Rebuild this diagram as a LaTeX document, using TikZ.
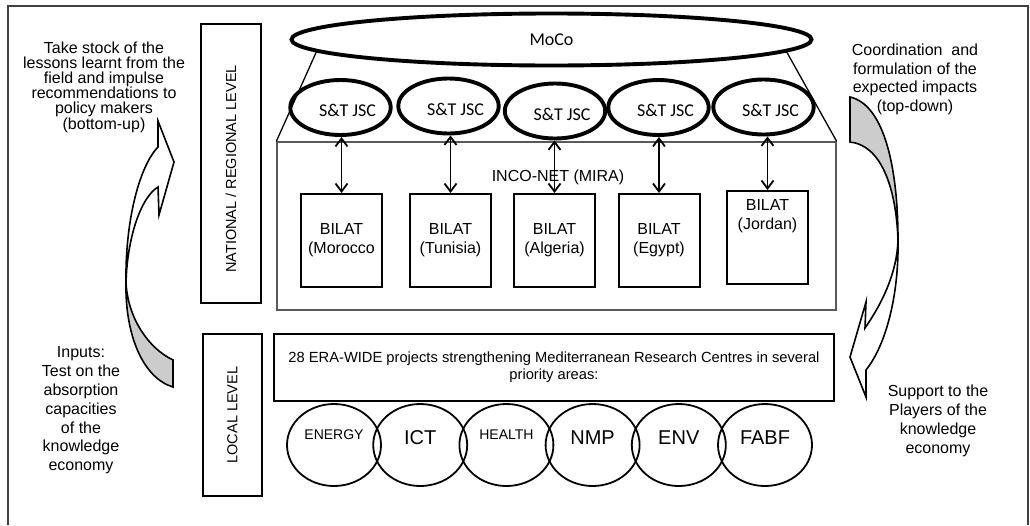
\documentclass[tikz,border=0pt]{standalone}
\usepackage{fontspec}
\setmainfont{Liberation Sans}
\newfontfamily\calibri{Carlito}
\usepackage{tikz}
\usetikzlibrary{arrows.meta,shapes,positioning}

\newcommand{\jsclabel}{\hspace*{14pt}S\&T JSC}

\begin{document}
\begin{tikzpicture}[x=1pt,y=-1pt,node distance=86.2pt]
      \tikzstyle{level}=[draw=black, line width=2.2pt, inner sep=0pt, rotate=90, font=\fontsize{14.5}{16}\selectfont]
      \tikzstyle{jsc}=[ellipse, draw=black, line width=3.9pt, minimum width=91pt, minimum height=55pt, inner sep=0pt, text height=19pt, font=\calibri\fontsize{18}{20}\selectfont]
      \tikzstyle{bilat}=[draw=black, line width=2pt, minimum width=81pt, minimum height=93pt, inner sep=0pt, align=center, font=\fontsize{16}{19}\selectfont]
      \tikzstyle{area}=[ellipse, draw=black, line width=1.8pt, minimum width=94pt, minimum height=82pt, inner sep=0pt, text depth=14pt, font=\fontsize{20}{22}\selectfont]
      \tikzstyle{small_area}=[area, text depth=20pt, font=\fontsize{14}{16}\selectfont]
      \tikzstyle{side_text}=[align=center, font=\fontsize{16}{18.8}\selectfont]
      \tikzstyle{link}=[line width=1.8pt, {Straight Barb[length=8pt,width=12pt]}-{Straight Barb[length=8pt,width=12pt]}]
      \tikzstyle{ribbon}=[draw=black, line width=1.6pt]

      \useasboundingbox (0,0) rectangle (1030,525);
      % outer frame, open at the bottom
      \draw [black!75, line width=1.3pt] (8,525) -- (8,6) -- (1028,6) -- (1028,525);

      % the two levels
      \node [level, minimum width=279pt, minimum height=60pt] (national) at (231,163.5) {NATIONAL / REGIONAL LEVEL\hspace*{11pt}};
      \node [level, minimum width=162pt, minimum height=59pt] (local) at (232.5,415) {LOCAL LEVEL};

      % national / regional level
      \node [draw=black!65, line width=1.3pt, minimum width=559pt, minimum height=168pt, inner sep=0pt] (inco) at (556.5,226) {};
      \node [font=\fontsize{16}{19}\selectfont] (inco_text) at (558,177) {INCO-NET (MIRA)};

      \node [ellipse, draw=black, line width=3.9pt, minimum width=520pt, minimum height=52pt, font=\calibri\fontsize{18}{20}\selectfont] (moco) at (551.5,39.5) {MoCo};
      \draw [line width=1.3pt] (moco.183) -- (inco.north west);
      \draw [line width=1.3pt] (moco.357) -- (inco.north east);

      \node [jsc] (jsc1) at (340.5,107.5) {\jsclabel};
      \node [jsc] (jsc2) at (448.5,106) {\jsclabel};
      \node [jsc] (jsc3) at (555,111) {\jsclabel};
      \node [jsc] (jsc4) at (658.5,107.5) {\jsclabel};
      \node [jsc] (jsc5) at (763.5,107) {\jsclabel};

      \node [bilat] (bilat1) at (341.5,240.5) {BILAT\\(Morocco};
      \node [bilat] (bilat2) at (450.5,240.5) {BILAT\\(Tunisia)};
      \node [bilat] (bilat3) at (554.5,240.5) {BILAT\\(Algeria)};
      \node [bilat] (bilat4) at (659,240.5) {BILAT\\(Egypt)};
      \node [bilat] (bilat5) at (767.5,237.5) {};
      \node [align=center, inner sep=0pt, font=\fontsize{16}{19}\selectfont, below=9pt of bilat5.north] (bilat5_text) {BILAT\\(Jordan)};

      \draw [link] (bilat1.north |- jsc1.south) -- (bilat1.north);
      \draw [link] (bilat2.north |- jsc2.south) -- (bilat2.north);
      \draw [link] (bilat3.north |- jsc3.south) -- (bilat3.north);
      \draw [link] (bilat4.north |- jsc4.south) -- (bilat4.north);
      \draw [link] (bilat5.north |- jsc5.south) -- (bilat5.north);

      % local level
      \node [draw=black, line width=2pt, minimum width=560pt, minimum height=67pt, align=center, font=\fontsize{14.7}{17}\selectfont] (era) at (554,367.5) {28 ERA-WIDE projects strengthening Mediterranean Research Centres in several\\priority areas:};

      \node [small_area] (energy) at (334,445) {ENERGY};
      \node [area] (ict) [right of=energy] {ICT};
      \node [small_area] (health) [right of=ict] {HEALTH};
      \node [area] (nmp) [right of=health] {NMP};
      \node [area] (env) [right of=nmp] {ENV};
      \node [area] (fabf) [right of=env] {FABF};

      % bottom-up ribbon (left)
      \path [ribbon, fill=gray!40] (173,360) .. controls (148,348) and (128,318) .. (126,283) .. controls (125,335) and (143,378) .. (173,387) -- cycle;
      \path [ribbon, fill=white] (126,283) .. controls (125,225) and (138,168) .. (158,147) -- (158,121) -- (174,162) -- (159,215) -- (158,187) .. controls (140,198) and (127,240) .. (126,283) -- cycle;

      % top-down ribbon (right)
      \path [ribbon, fill=gray!40] (850,97) .. controls (885,105) and (898,170) .. (898,240) .. controls (896,185) and (880,145) .. (850,142) -- cycle;
      \path [ribbon, fill=white] (898,240) .. controls (899,295) and (886,345) .. (866,370) -- (866,397) -- (850,357) -- (866,302) -- (865,328) .. controls (883,302) and (897,272) .. (898,240) -- cycle;

      % side texts
      \node [side_text, font=\fontsize{16}{15.2}\selectfont] (stock) at (104,87) {Take stock of the\\lessons learnt from the\\field and impulse\\recommendations to\\policy makers\\(bottom-up)};
      \node [side_text] (inputs) at (81,410.5) {Inputs:\\Test on the\\absorption\\capacities\\of the\\knowledge\\economy};
      \node [side_text] (coord) at (915,79.4) {Coordination~ and\\formulation of the\\expected impacts\\(top-down)};
      \node [side_text] (support) at (938,421) {Support to the\\Players of the\\knowledge\\economy};

\end{tikzpicture}
\end{document}
